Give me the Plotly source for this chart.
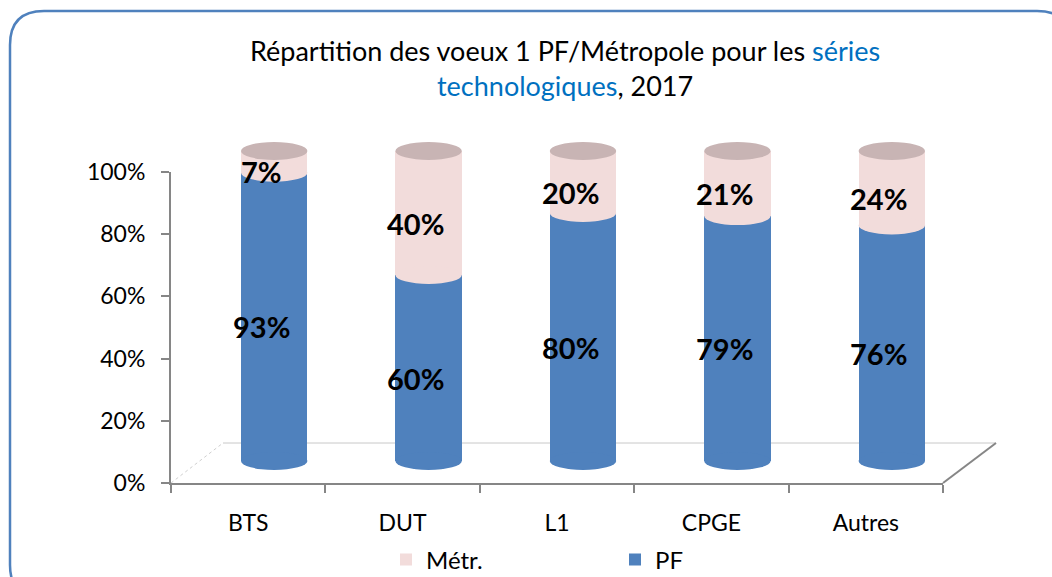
import plotly.graph_objects as go

categories = ["BTS", "DUT", "L1", "CPGE", "Autres"]
pf_values = [93, 60, 80, 79, 76]
metr_values = [7, 40, 20, 21, 24]
y_ticks = [0, 20, 40, 60, 80, 100]
y_tick_labels = ["0%", "20%", "40%", "60%", "80%", "100%"]

BLUE = "#4F81BD"
PINK = "#F2DCDB"
CAP = "#C8B4B4"
AXIS = "#868686"
FONT = "Lato"

W, H = 1052, 577
L, R, T, B = 171, 109, 130, 94
PW, PH = W - L - R, H - T - B
Y_TOP = 172  # pixel of 100% on visible axis


def px(x):
    return (x - L) / PW


def py(y):
    return (H - B - y) / PH


fig = go.Figure()
# invisible trace so the visible (front) axes are drawn
fig.add_trace(go.Scatter(x=categories, y=[None] * len(categories), xaxis="x", yaxis="y",
                         showlegend=False, hoverinfo="skip", mode="markers"))
fig.add_trace(go.Bar(
    x=categories, y=pf_values, name="PF", marker=dict(color=BLUE, line=dict(width=0)),
    width=0.43, xaxis="x2", yaxis="y2", cliponaxis=False, hoverinfo="skip",
))
fig.add_trace(go.Bar(
    x=categories, y=metr_values, name="Métr.", marker=dict(color=PINK, line=dict(width=0)),
    width=0.43, xaxis="x2", yaxis="y2", cliponaxis=False, hoverinfo="skip",
))

shapes = []
half_w = 0.215
eh = 2.9
for i, (p, m) in enumerate(zip(pf_values, metr_values)):
    top = p + m
    shapes.append(dict(type="circle", xref="x2", yref="y2", x0=i - half_w, x1=i + half_w,
                       y0=-eh, y1=eh, fillcolor=BLUE, line=dict(width=0), layer="above"))
    shapes.append(dict(type="circle", xref="x2", yref="y2", x0=i - half_w, x1=i + half_w,
                       y0=p - eh, y1=p + eh, fillcolor=PINK, line=dict(width=0), layer="above"))
    shapes.append(dict(type="circle", xref="x2", yref="y2", x0=i - half_w, x1=i + half_w,
                       y0=top - eh, y1=top + eh, fillcolor=CAP, line=dict(width=0), layer="above"))

# 3D floor decorations
shapes.append(dict(type="line", xref="paper", yref="paper", x0=px(223), y0=py(443), x1=px(996), y1=py(443),
                   line=dict(color="#C8C8C8", width=1), layer="below"))
shapes.append(dict(type="line", xref="paper", yref="paper", x0=px(171), y0=py(483), x1=px(223), y1=py(443),
                   line=dict(color="#D0D0D0", width=1, dash="dot"), layer="below"))
shapes.append(dict(type="line", xref="paper", yref="paper", x0=px(943), y0=py(483), x1=px(996), y1=py(443),
                   line=dict(color=AXIS, width=2), layer="below"))

# rounded border
bl, bt, br, bb, rad = 10, 11, 1071, 599, 34
path = (f"M {px(bl)},{py(bt + rad)} "
        f"Q {px(bl)},{py(bt)} {px(bl + rad)},{py(bt)} "
        f"L {px(br - rad)},{py(bt)} "
        f"Q {px(br)},{py(bt)} {px(br)},{py(bt + rad)} "
        f"L {px(br)},{py(bb - rad)} "
        f"Q {px(br)},{py(bb)} {px(br - rad)},{py(bb)} "
        f"L {px(bl + rad)},{py(bb)} "
        f"Q {px(bl)},{py(bb)} {px(bl)},{py(bb - rad)} Z")
shapes.append(dict(type="path", xref="paper", yref="paper", path=path,
                   line=dict(color="#4F81BD", width=2.5), layer="below"))

annotations = []
for i, (p, m) in enumerate(zip(pf_values, metr_values)):
    annotations.append(dict(x=i, y=p / 2, xref="x2", yref="y2", text=f"<b>{p}%</b>", showarrow=False,
                            xshift=-13, yshift=-10, font=dict(family=FONT, size=29, color="black")))
    annotations.append(dict(x=i, y=p + m / 2, xref="x2", yref="y2", text=f"<b>{m}%</b>", showarrow=False,
                            xshift=-13, yshift=-10, font=dict(family=FONT, size=29, color="black")))

# title, two lines
annotations.append(dict(text="Répartition des voeux 1 PF/Métropole pour les <span style='color:#0070C0'>séries</span>",
                        x=px(565), y=py(50), xref="paper", yref="paper", showarrow=False,
                        xanchor="center", yanchor="middle", font=dict(family=FONT, size=27, color="black")))
annotations.append(dict(text="<span style='color:#0070C0'>technologiques</span>, 2017",
                        x=px(565), y=py(85), xref="paper", yref="paper", showarrow=False,
                        xanchor="center", yanchor="middle", font=dict(family=FONT, size=27, color="black")))

# bar axis: 0 at pixel 461, 100 at pixel 151
plot_bottom = H - B
r_span = 100 * PH / (461 - 151)
r0 = -(plot_bottom - 461) / PH * r_span
r1 = r0 + r_span

shift = 26 / (PW / len(categories))
fig.update_layout(
    width=W, height=H,
    margin=dict(l=L, r=R, t=T, b=B, autoexpand=False),
    paper_bgcolor="white", plot_bgcolor="rgba(0,0,0,0)",
    barmode="stack",
    font=dict(family=FONT, size=23, color="black"),
    xaxis=dict(type="category", categoryorder="array", categoryarray=categories,
               range=[-0.5, len(categories) - 0.5], showline=True, linecolor=AXIS, linewidth=2,
               ticks="outside", tickson="boundaries", ticklen=8, tickcolor=AXIS, tickwidth=2,
               ticklabelstandoff=18, showgrid=False, zeroline=False, anchor="y",
               tickfont=dict(family=FONT, size=23, color="black")),
    yaxis=dict(range=[0, 100], domain=[0, (plot_bottom - Y_TOP) / PH], tickvals=y_ticks,
               ticktext=y_tick_labels, showline=True, anchor="x",
               linecolor=AXIS, linewidth=2, ticks="outside", ticklen=8, tickcolor=AXIS, tickwidth=2,
               ticklabelstandoff=11, showgrid=False, zeroline=False,
               tickfont=dict(family=FONT, size=23, color="black")),
    xaxis2=dict(type="category", categoryorder="array", categoryarray=categories, anchor="y2",
                domain=[0, 1], range=[-0.5 - shift, len(categories) - 0.5 - shift], visible=False,
                showgrid=False),
    yaxis2=dict(anchor="x2", domain=[0, 1], range=[r0, r1], visible=False, showgrid=False,
                zeroline=False),
    legend=dict(orientation="h", x=px(386), xanchor="left", y=py(560), yanchor="middle",
                traceorder="reversed", entrywidth=184, entrywidthmode="pixels",
                font=dict(family=FONT, size=24, color="black"), bgcolor="rgba(0,0,0,0)"),
    shapes=shapes,
    annotations=annotations,
    showlegend=True,
)

fig.write_html("out.html", config={"displayModeBar": False},
               post_script="document.body.style.margin='0';")
